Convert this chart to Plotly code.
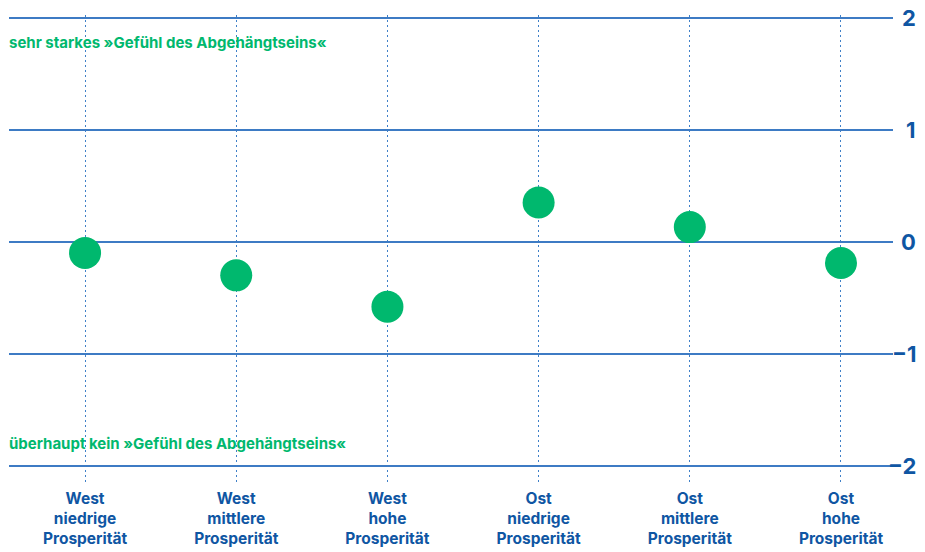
import plotly.graph_objects as go

categories = [
    "West<br>niedrige<br>Prosperität",
    "West<br>mittlere<br>Prosperität",
    "West<br>hohe<br>Prosperität",
    "Ost<br>niedrige<br>Prosperität",
    "Ost<br>mittlere<br>Prosperität",
    "Ost<br>hohe<br>Prosperität",
]
values = [-0.10, -0.30, -0.58, 0.35, 0.13, -0.19]
y_ticks = [2, 1, 0, -1, -2]
y_tick_labels = ["2", "1", "0", "−1", "−2"]
top_label = "sehr starkes »Gefühl des Abgehängtseins«"
bottom_label = "überhaupt kein »Gefühl des Abgehängtseins«"

BLUE_GRID = "#3d7bc4"
BLUE_DOT = "#3f80c8"
BLUE_TEXT = "#0f56a3"
GREEN = "#00b86e"
FONT = "Inter"

x_idx = list(range(len(categories)))

fig = go.Figure()
fig.add_trace(go.Scatter(
    x=x_idx, y=values, mode="markers",
    marker=dict(size=32, color=GREEN, line=dict(width=0)),
    hoverinfo="skip", showlegend=False,
))

annotations = []
for v, t in zip(y_ticks, y_tick_labels):
    annotations.append(dict(
        x=1.027, xref="paper", y=v, yref="y", text=t, showarrow=False,
        xanchor="right", yanchor="middle", borderpad=0,
        font=dict(family=FONT, size=22, color=BLUE_TEXT, weight="bold"),
    ))
annotations.append(dict(
    x=-0.002, xref="paper", y=1.78, yref="y", text=top_label, showarrow=False,
    xanchor="left", yanchor="middle",
    font=dict(family=FONT, size=15, color=GREEN, weight="bold"),
))
annotations.append(dict(
    x=-0.002, xref="paper", y=-1.80, yref="y", text=bottom_label, showarrow=False,
    xanchor="left", yanchor="middle",
    font=dict(family=FONT, size=15, color=GREEN, weight="bold"),
))

fig.update_layout(
    width=925, height=552,
    margin=dict(l=9, r=32, t=15, b=70, autoexpand=False),
    paper_bgcolor="white", plot_bgcolor="white",
    annotations=annotations,
    hovermode=False,
    xaxis=dict(
        range=[-0.503, 5.344],
        tickmode="array", tickvals=x_idx, ticktext=categories,
        showgrid=True, gridcolor=BLUE_DOT, gridwidth=1.3, griddash="2px,3px",
        zeroline=False, showline=False, ticks="",
        ticklabelstandoff=5, automargin=False,
        tickfont=dict(family=FONT, size=15.5, color=BLUE_TEXT, weight="bold"),
        fixedrange=True,
    ),
    yaxis=dict(
        range=[-2.1437, 2.0223],
        tickmode="array", tickvals=y_ticks, showticklabels=False,
        showgrid=True, gridcolor=BLUE_GRID, gridwidth=1.5,
        zeroline=False, showline=False, ticks="",
        fixedrange=True, automargin=False,
    ),
)

fig.write_html(
    "out.html",
    config={"displayModeBar": False},
    post_script="document.body.style.margin='0';document.body.style.overflow='hidden';",
)
